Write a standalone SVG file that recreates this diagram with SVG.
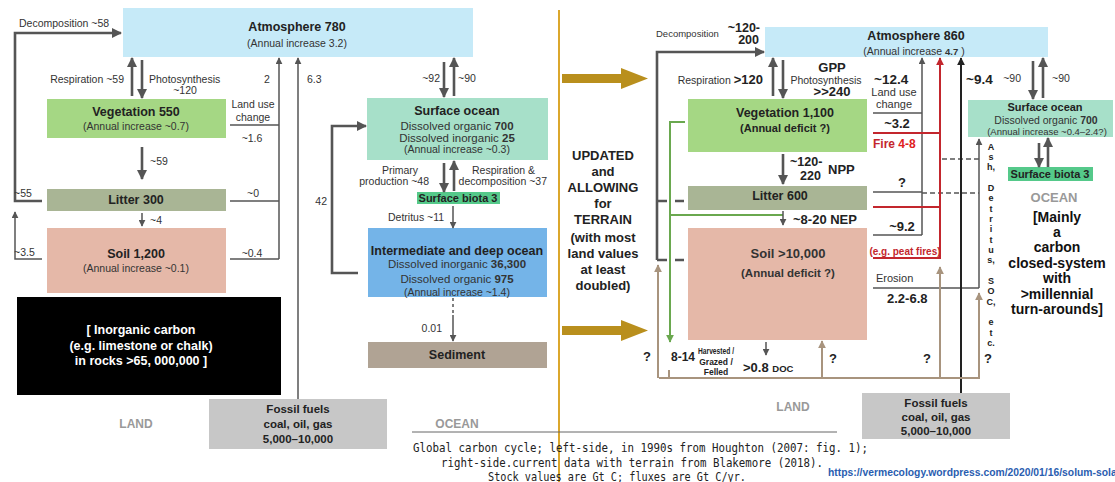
<svg xmlns="http://www.w3.org/2000/svg" width="1115" height="482" viewBox="0 0 1115 482">
<defs>
<style>
text{font-family:"Liberation Sans",Arial,sans-serif;fill:#333;font-size:10.5px}
.b{font-weight:bold}
.m{text-anchor:middle}
.e{text-anchor:end}
.h{font-size:12.5px;font-weight:bold;fill:#222}
.n{font-size:13px;font-weight:bold;fill:#222}
.w{fill:#fff;font-size:12.5px;font-weight:bold}
.g{fill:#999;font-size:12px;font-weight:bold}
.cap{font-family:"DejaVu Sans Mono","Liberation Mono",monospace;font-size:12.5px;fill:#222}
.ln{fill:none;stroke:#555;stroke-width:1.5}
.th{fill:none;stroke:#555;stroke-width:2.6}
.dash{stroke-dasharray:10,8}
.red{fill:none;stroke:#c3262d;stroke-width:2}
.blk{fill:none;stroke:#222;stroke-width:2}
.tan{fill:none;stroke:#a8947e;stroke-width:2}
.grn{fill:none;stroke:#6aa84f;stroke-width:2}
</style>
<marker id="mG" viewBox="0 0 10 10" refX="9" refY="5" markerWidth="10" markerHeight="10" markerUnits="userSpaceOnUse" orient="auto"><path d="M0,0 L10,5 L0,10 z" fill="#555"/></marker>
<marker id="mg" viewBox="0 0 10 10" refX="9" refY="5" markerWidth="7" markerHeight="7" markerUnits="userSpaceOnUse" orient="auto"><path d="M0,0 L10,5 L0,10 z" fill="#555"/></marker>
<marker id="mR" viewBox="0 0 10 10" refX="9" refY="5" markerWidth="8" markerHeight="8" markerUnits="userSpaceOnUse" orient="auto"><path d="M0,0 L10,5 L0,10 z" fill="#c3262d"/></marker>
<marker id="mK" viewBox="0 0 10 10" refX="9" refY="5" markerWidth="8" markerHeight="8" markerUnits="userSpaceOnUse" orient="auto"><path d="M0,0 L10,5 L0,10 z" fill="#222"/></marker>
<marker id="mT" viewBox="0 0 10 10" refX="9" refY="5" markerWidth="8" markerHeight="8" markerUnits="userSpaceOnUse" orient="auto"><path d="M0,0 L10,5 L0,10 z" fill="#a8947e"/></marker>
<marker id="mN" viewBox="0 0 10 10" refX="9" refY="5" markerWidth="8" markerHeight="8" markerUnits="userSpaceOnUse" orient="auto"><path d="M0,0 L10,5 L0,10 z" fill="#6aa84f"/></marker>
</defs>
<rect width="1115" height="482" fill="#fff"/>

<!-- LEFT SIDE NODES -->
<g id="atmosphere-left">
<rect x="123" y="8" width="350" height="49" fill="#c6eaf8"/>
<text class="h m" x="297" y="31">Atmosphere 780</text>
<text class="m" x="297" y="46.5">(Annual increase 3.2)</text>
</g>
<g id="vegetation-left">
<rect x="47" y="99" width="179" height="39" fill="#a5d784"/>
<text class="h m" x="136" y="116">Vegetation 550</text>
<text class="m" x="136" y="130">(Annual increase ~0.7)</text>
</g>
<g id="litter-left">
<rect x="47" y="189" width="179" height="22" fill="#a9b595"/>
<text class="h m" x="136" y="204">Litter 300</text>
</g>
<g id="soil-left">
<rect x="47" y="228" width="179" height="65" fill="#e5b8a8"/>
<text class="h m" x="136" y="258">Soil 1,200</text>
<text class="m" x="136" y="272">(Annual increase ~0.1)</text>
</g>
<g id="rocks">
<rect x="17" y="297" width="264" height="98" fill="#000"/>
<text class="w m" x="141" y="334">[ Inorganic carbon</text>
<text class="w m" x="141" y="350">(e.g. limestone or chalk)</text>
<text class="w m" x="141" y="365">in rocks &gt;65, 000,000 ]</text>
</g>
<g id="fossil-left">
<rect x="209" y="399" width="178" height="50" fill="#c7c7c7"/>
<text class="h m" x="298" y="413" style="font-size:11.5px">Fossil fuels</text>
<text class="h m" x="298" y="428" style="font-size:11.5px">coal, oil, gas</text>
<text class="h m" x="298" y="443" style="font-size:11.5px">5,000–10,000</text>
</g>
<g id="surface-ocean-left">
<rect x="367" y="98" width="181" height="62" fill="#a7e0c9"/>
<text class="h m" x="457" y="115">Surface ocean</text>
<text class="m" x="457" y="130" style="font-size:11.5px">Dissolved organic <tspan class="b">700</tspan></text>
<text class="m" x="457" y="142" style="font-size:11.5px">Dissolved inorganic <tspan class="b">25</tspan></text>
<text class="m" x="457" y="153">(Annual increase ~0.3)</text>
</g>
<g id="surface-biota-left">
<rect x="417" y="192" width="83" height="12" fill="#55c98a"/>
<text class="m b" x="458" y="202" style="font-size:11px;fill:#222">Surface biota 3</text>
</g>
<g id="deep-ocean">
<rect x="368" y="228" width="179" height="69" fill="#74b4e8"/>
<text class="h m" x="457" y="255">Intermediate and deep ocean</text>
<text class="m" x="457" y="268" style="font-size:11.5px">Dissolved inorganic <tspan class="b">36,300</tspan></text>
<text class="m" x="457" y="283" style="font-size:11.5px">Dissolved organic <tspan class="b">975</tspan></text>
<text class="m" x="457" y="296">(Annual increase ~1.4)</text>
</g>
<g id="sediment">
<rect x="368" y="342" width="179" height="26" fill="#b0a394"/>
<text class="h m" x="457" y="359">Sediment</text>
</g>
<text class="g m" x="136" y="428">LAND</text>
<text class="g m" x="457" y="428">OCEAN</text>

<!-- MIDDLE -->
<g id="divider">
<line x1="559" y1="10" x2="559" y2="482" stroke="#dba72c" stroke-width="2"/>
<polygon points="562,74 621,74 621,68 648,78.5 621,89 621,83 562,83" fill="#b98f1d"/>
<polygon points="562,326 621,326 621,320 648,330.5 621,341 621,335 562,335" fill="#b98f1d"/>
<text class="n m" x="603" y="159.5">UPDATED</text>
<text class="n m" x="603" y="175.5">and</text>
<text class="n m" x="603" y="191.5">ALLOWING</text>
<text class="n m" x="603" y="207.5">for</text>
<text class="n m" x="603" y="223.5">TERRAIN</text>
<text class="n m" x="603" y="241.5">(with most</text>
<text class="n m" x="603" y="257.5">land values</text>
<text class="n m" x="603" y="273.5">at least</text>
<text class="n m" x="603" y="289.5">doubled)</text>
</g>

<!-- RIGHT SIDE NODES -->
<g id="atmosphere-right">
<rect x="765" y="27" width="283" height="30" fill="#c6eaf8"/>
<text class="h m" x="916" y="39.5">Atmosphere  860</text>
<text class="m" x="914" y="54.5">(Annual increase <tspan class="b" style="font-size:9.5px">4.7</tspan> )</text>
</g>
<g id="vegetation-right">
<rect x="688" y="99" width="179" height="53" fill="#a5d784"/>
<text class="h m" x="785" y="116.5">Vegetation  1,100</text>
<text class="m b" x="785" y="131.5" style="font-size:11px;fill:#222">(Annual deficit ?)</text>
</g>
<g id="litter-right">
<rect x="688" y="186" width="179" height="24" fill="#a9b595"/>
<text class="h m" x="780" y="200">Litter  600</text>
</g>
<g id="soil-right">
<rect x="688" y="228" width="179" height="112" fill="#e5b8a8"/>
<text class="m b" x="788" y="258" style="font-size:13px;fill:#333">Soil  &gt;10,000</text>
<text class="m b" x="788" y="276.5" style="font-size:11.5px;fill:#333">(Annual deficit ?)</text>
</g>
<g id="fossil-right">
<rect x="862" y="393" width="148" height="46" fill="#c7c7c7"/>
<text class="h m" x="936" y="407" style="font-size:11.5px">Fossil fuels</text>
<text class="h m" x="936" y="421" style="font-size:11.5px">coal, oil, gas</text>
<text class="h m" x="936" y="435" style="font-size:11.5px">5,000–10,000</text>
</g>
<g id="surface-ocean-right">
<rect x="968" y="100" width="145" height="37" fill="#a7e0c9"/>
<text class="m b" x="1045" y="111" style="font-size:11px;fill:#222">Surface ocean</text>
<text class="m" x="1046" y="123.5" style="font-size:10.5px">Dissolved organic <tspan class="b">700</tspan></text>
<text class="m" x="1047" y="134.5" style="font-size:9.5px">(Annual increase  ~0.4–2.4?)</text>
</g>
<g id="surface-biota-right">
<rect x="1008" y="167" width="85" height="14" fill="#55c98a"/>
<text class="m b" x="1050" y="178" style="font-size:11px;fill:#222">Surface biota 3</text>
</g>
<g id="ocean-note">
<text class="m b" x="1054" y="201.5" style="font-size:13px;fill:#999">OCEAN</text>
<text class="m b" x="1057" y="222" style="font-size:14px;fill:#111">[Mainly</text>
<text class="m b" x="1057" y="237" style="font-size:14px;fill:#111">a</text>
<text class="m b" x="1057" y="252" style="font-size:14px;fill:#111">carbon</text>
<text class="m b" x="1057" y="268" style="font-size:14px;fill:#111">closed-system</text>
<text class="m b" x="1057" y="283" style="font-size:14px;fill:#111">with</text>
<text class="m b" x="1057" y="299" style="font-size:14px;fill:#111">&gt;millennial</text>
<text class="m b" x="1057" y="314" style="font-size:14px;fill:#111">turn-arounds]</text>
</g>
<text class="g m" x="793" y="411">LAND</text>

<!-- CONNECTORS -->
<g id="connectors">
<path class="th" d="M42,201 H15 V33 H121" marker-end="url(#mG)"/>
<path class="th" d="M132,96 V58" marker-end="url(#mG)"/>
<path class="th" d="M142,60 V98" marker-end="url(#mG)"/>
<path class="ln" d="M230,125 H279 M230,201 H279 M230,259 H279"/>
<path class="ln" d="M279,259 V58" marker-end="url(#mg)"/>
<path class="ln" d="M298,399 V58" marker-end="url(#mg)"/>
<path class="th" d="M358,273 H332 V126 H366" marker-end="url(#mG)"/>
<path class="th" d="M142,147 V179" marker-end="url(#mG)"/>
<path class="ln" stroke-width="2" d="M142,213 V226" marker-end="url(#mg)"/>
<path class="ln" d="M42,259 H15 V212" marker-end="url(#mg)"/>
<path class="th" d="M444,62 V97" marker-end="url(#mG)"/>
<path class="th" d="M454,96 V58" marker-end="url(#mG)"/>
<path class="th" d="M444,163 V192" marker-end="url(#mG)"/>
<path class="th" d="M454,191 V161" marker-end="url(#mG)"/>
<path class="ln" d="M453,206 V228" marker-end="url(#mg)"/>
<path class="ln" stroke-dasharray="3,3" d="M453,298 V315"/>
<path class="ln" d="M453,315 V341" marker-end="url(#mg)"/>

<path class="th" d="M657,260 V52 H764" marker-end="url(#mG)"/>
<path class="th dash" d="M657,201 H684 M657,260 H684"/>
<path class="th" d="M773,96 V58" marker-end="url(#mG)"/>
<path class="th" d="M783,60 V98" marker-end="url(#mG)"/>
<path class="th" d="M783,154 V184" marker-end="url(#mG)"/>
<path class="grn" d="M685,122 H670 V342" marker-end="url(#mN)"/>
<path class="grn" d="M670,215 H783"/>
<path class="ln" d="M783,211 V225" marker-end="url(#mg)"/>
<path class="ln" d="M873,113 H922 M873,192 H922 M873,235 H922"/>
<path class="ln" d="M922,235 V58" marker-end="url(#mg)"/>
<path class="ln" stroke-dasharray="5,3" d="M922,193 H979 M942,159 H979"/>
<path class="ln" d="M873,288 H979"/>
<path class="ln" d="M979,288 V139" marker-end="url(#mg)"/>
<path class="red" d="M873,133 H940 M873,207 H940"/>
<path class="red" d="M873,258 H940 V58" marker-end="url(#mR)"/>
<path class="blk" d="M961,393 V58" marker-end="url(#mK)"/>
<path class="tan" d="M659,378 H980 M669,378 V370"/>
<path class="tan" d="M658,378 V265" marker-end="url(#mT)"/>
<path class="tan" d="M822,378 V341" marker-end="url(#mT)"/>
<path class="tan" d="M940,378 V267" marker-end="url(#mT)"/>
<path class="tan" d="M979,378 V293" marker-end="url(#mT)"/>
<path class="ln" d="M766,342 V355" marker-end="url(#mg)"/>
<path class="th" d="M1033,61 V99" marker-end="url(#mG)"/>
<path class="th" d="M1043,98 V58" marker-end="url(#mG)"/>
<path class="th" d="M1039,143 V167" marker-end="url(#mG)"/>
<path class="th" d="M1048,167 V138" marker-end="url(#mG)"/>
</g>

<!-- FLUX LABELS -->
<g id="labels">
<text x="19" y="27">Decomposition ~58</text>
<text class="e" x="124" y="83">Respiration ~59</text>
<text x="149" y="83">Photosynthesis</text>
<text class="m" x="185" y="94">~120</text>
<text class="m" x="267" y="83">2</text>
<text x="307" y="83">6.3</text>
<text class="m" x="253" y="108">Land use</text>
<text class="m" x="253" y="121">change</text>
<text class="m" x="252" y="142">~1.6</text>
<text x="150" y="165">~59</text>
<text x="14" y="197">~55</text>
<text x="150" y="224">~4</text>
<text class="m" x="253" y="197">~0</text>
<text x="14" y="256">~3.5</text>
<text class="m" x="252" y="257">~0.4</text>
<text class="e" x="327" y="205">42</text>
<text class="e" x="440" y="82">~92</text>
<text x="458" y="82">~90</text>
<text class="m" x="400" y="174">Primary</text>
<text class="e" x="429" y="185">production ~48</text>
<text class="e" x="535" y="174">Respiration &amp;</text>
<text class="e" x="547" y="185">decomposition ~37</text>
<text x="388" y="221">Detritus ~11</text>
<text class="e" x="442" y="332">0.01</text>

<text x="656" y="36.5" style="font-size:9.5px">Decomposition</text>
<text class="n e" x="760" y="32" style="font-size:12.5px">~120-</text>
<text class="n e" x="759" y="44" style="font-size:12.5px">200</text>
<text class="e" x="763" y="83.5">Respiration <tspan class="n">&gt;120</tspan></text>
<text class="n m" x="832" y="72">GPP</text>
<text class="m" x="826" y="83.5">Photosynthesis</text>
<text class="n m" x="832" y="95.5">&gt;&gt;240</text>
<text class="n" x="790" y="166" style="font-size:12.5px">~120-</text>
<text class="n" x="800" y="179.5" style="font-size:12.5px">220</text>
<text class="n" x="828" y="174">NPP</text>
<text class="n" x="793" y="224">~8-20 NEP</text>
<text class="n" x="874" y="83.5" style="font-size:13.5px">~12.4</text>
<text class="m" x="894" y="96" style="font-size:11px">Land use</text>
<text class="m" x="894" y="108" style="font-size:11px">change</text>
<text class="n m" x="897" y="127.5">~3.2</text>
<text class="b" x="873" y="147.5" style="font-size:12px;fill:#c3262d">Fire <tspan style="fill:#e0201e">4-8</tspan></text>
<text class="n m" x="902" y="187">?</text>
<text class="n m" x="902" y="230.5">~9.2</text>
<text class="m b" x="905" y="255" style="font-size:10px;fill:#c3262d">(e.g. peat fires)</text>
<text x="876" y="282" style="font-size:11px">Erosion</text>
<text class="n" x="887" y="303">2.2-6.8</text>
<text class="n" x="966" y="83.5" style="font-size:13.5px">~9.4</text>
<text class="e" x="1021" y="82">~90</text>
<text x="1052" y="82">~90</text>
<text class="b m" x="991" y="149.5" style="font-size:9px;fill:#222"><tspan x="991" dy="0">A</tspan><tspan x="991" dy="10.35">s</tspan><tspan x="991" dy="10.35">h,</tspan><tspan x="991" dy="20.7">D</tspan><tspan x="991" dy="10.35">e</tspan><tspan x="991" dy="10.35">t</tspan><tspan x="991" dy="10.35">r</tspan><tspan x="991" dy="10.35">i</tspan><tspan x="991" dy="10.35">t</tspan><tspan x="991" dy="10.35">u</tspan><tspan x="991" dy="10.35">s,</tspan><tspan x="991" dy="20.7">S</tspan><tspan x="991" dy="10.35">O</tspan><tspan x="991" dy="10.35">C,</tspan><tspan x="991" dy="20.7">e</tspan><tspan x="991" dy="10.35">t</tspan><tspan x="991" dy="10.35">c.</tspan></text>
<text class="n m" x="988" y="363">?</text>
<text class="n m" x="647" y="361">?</text>
<text class="n" x="671" y="361" style="font-size:12px">8-14</text>
<text class="m b" x="716" y="353.5" style="font-size:8.5px;fill:#222" textLength="36" lengthAdjust="spacingAndGlyphs">Harvested /</text>
<text class="m b" x="716" y="364.5" style="font-size:8.5px;fill:#222">Grazed /</text>
<text class="m b" x="716" y="375" style="font-size:8.5px;fill:#222">Felled</text>
<text class="n" x="743" y="372" style="font-size:13px">&gt;0.8 <tspan style="font-size:9.5px">DOC</tspan></text>
<text class="n m" x="833" y="363">?</text>
<text class="n m" x="927" y="363">?</text>
</g>

<!-- CAPTION -->
<g id="caption">
<line x1="412" y1="432" x2="837" y2="432" stroke="#666" stroke-width="1"/>
<text class="cap" x="413" y="452" textLength="455" lengthAdjust="spacingAndGlyphs">Global carbon cycle; left-side, in 1990s from Houghton (2007: fig. 1);</text>
<text class="cap" x="441" y="467" textLength="382" lengthAdjust="spacingAndGlyphs">right-side.current data with terrain from Blakemore (2018).</text>
<text class="cap" x="488" y="481" textLength="258" lengthAdjust="spacingAndGlyphs">Stock values are Gt C; fluxes are Gt C/yr.</text>
<text class="b" x="828" y="476" style="font-size:10px;fill:#2a5db0" textLength="303" lengthAdjust="spacingAndGlyphs">https://vermecology.wordpress.com/2020/01/16/solum-solace/</text>
</g>
</svg>
